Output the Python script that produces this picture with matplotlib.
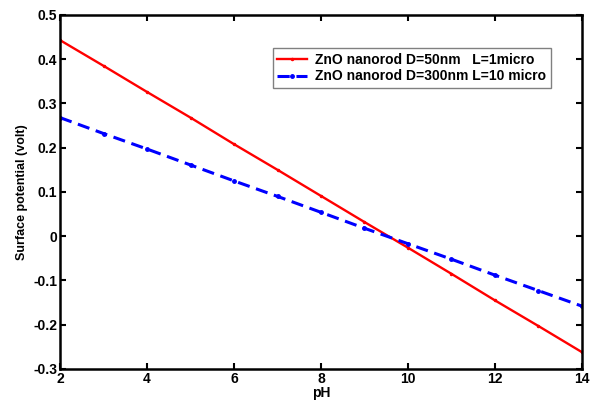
import matplotlib

matplotlib.use("Agg")
import matplotlib.pyplot as plt

ph = [2, 3, 4, 5, 6, 7, 8, 9, 10, 11, 12, 13, 14]
v_50nm = [0.443, 0.385, 0.326, 0.268, 0.208, 0.150, 0.091, 0.032,
          -0.026, -0.085, -0.145, -0.203, -0.262]
v_300nm = [0.268, 0.232, 0.197, 0.161, 0.125, 0.090, 0.054, 0.018,
           -0.017, -0.052, -0.088, -0.123, -0.158]

label_50 = "ZnO nanorod D=50nm   L=1micro"
label_300 = "ZnO nanorod D=300nm L=10 micro"

plt.rcParams["font.family"] = ["Liberation Sans", "DejaVu Sans"]
plt.rcParams["font.weight"] = "bold"

fig = plt.figure(figsize=(5.95, 4.05), dpi=100)
ax = fig.add_axes([0.101, 0.089, 0.877, 0.874])

ax.plot(ph, v_50nm, color="red", lw=1.7, marker=".", ms=3, label=label_50)
ax.plot(ph, v_300nm, color="blue", lw=2.2, ls=(0, (4, 2.2)), marker=".", ms=5,
        label=label_300)

ax.set_xlim(2, 14)
ax.set_ylim(-0.3, 0.5)
ax.set_xticks(range(2, 15, 2))
ax.set_yticks([-0.3, -0.2, -0.1, 0, 0.1, 0.2, 0.3, 0.4, 0.5])
ax.set_yticklabels(["-0.3", "-0.2", "-0.1", "0", "0.1", "0.2", "0.3", "0.4", "0.5"])
ax.tick_params(direction="in", length=4, width=1.5, labelsize=10, top=True, right=True, pad=2)
for s in ax.spines.values():
    s.set_linewidth(1.8)

ax.set_xlabel("pH", fontsize=10, fontweight="bold", labelpad=0)
ax.set_ylabel("Surface potential (volt)", fontsize=9, fontweight="bold", labelpad=4)

leg = ax.legend(loc="upper left", bbox_to_anchor=(0.394, 0.927), fontsize=10,
                fancybox=False, edgecolor="gray", framealpha=1,
                handlelength=2.1, handletextpad=0.6, borderpad=0.35, labelspacing=0.2)
leg.get_frame().set_linewidth(1.0)

fig.savefig("out.png", dpi=100)
